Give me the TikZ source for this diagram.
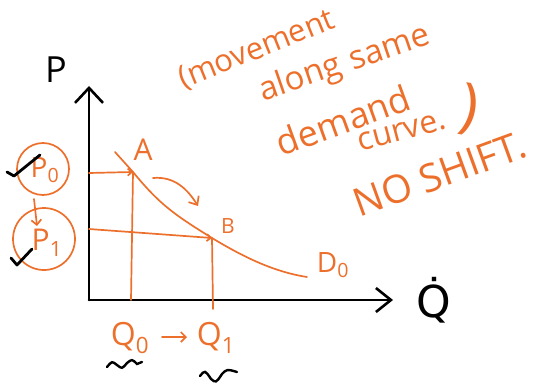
\documentclass[tikz,border=0pt]{standalone}
\usepackage{fontspec}
\setmainfont{Open Sans}
\newfontfamily\dejavu{DejaVu Sans}
\usetikzlibrary{arrows.meta}
\definecolor{pen}{RGB}{236,112,44}
\tikzset{
  axis/.style={black, line width=2.6pt, line cap=round, line join=round},
  ora/.style={pen, line width=1.7pt, line cap=round},
  hand/.style={pen, inner sep=0pt, font=\itshape},
  blk/.style={black, inner sep=0pt},
  tick/.style={black, line width=2.8pt, line cap=round, line join=round},
  squig/.style={black, line width=2.4pt, line cap=round},
}
\begin{document}
\begin{tikzpicture}[x=1pt,y=-1pt]
\useasboundingbox (0,0) rectangle (545,385);
% axes
\coordinate (O) at (89,300);
\coordinate (ytop) at (89,86);
\coordinate (xend) at (393,300);
\draw[axis,-{Straight Barb[length=15pt,width=28pt]}] (O) -- (ytop);
\draw[axis,-{Straight Barb[length=15pt,width=24pt]}] (O) -- (xend);
\node[blk, font=\fontsize{36}{40}\selectfont] (P) at (56,70) {P};
\node[blk, font=\fontsize{44}{48}\selectfont\dejavu] (Q) at (434,300) {Q\char"0307};
% demand curve
\coordinate (c0) at (115,152);
\coordinate (A) at (133,172);
\coordinate (B) at (212,238);
\coordinate (c9) at (307,277);
\draw[ora] (c0) .. controls (124,162) .. (A) .. controls (160,205) and (175,215) .. (B) .. controls (245,258) and (275,272) .. (c9);
\node[hand, font=\fontsize{30}{32}\selectfont] (Alab) at (143,150) {A};
\node[hand, font=\fontsize{21}{24}\selectfont] (Blab) at (228,226) {B};
\node[hand, font=\fontsize{28}{30}\selectfont] (D0) at (333,265) {D\textsubscript{0}};
% guide lines
\coordinate (yA) at (89,173);
\coordinate (yB) at (89,229);
\coordinate (xA) at (131,300);
\coordinate (xB) at (213,309);
\draw[ora,-{Straight Barb[length=4pt,width=7pt]}] (yA) -- (A);
\draw[ora,-{Straight Barb[length=4pt,width=7pt]}] (yB) -- (B);
\draw[ora] (A) -- (xA);
\draw[ora] (B) -- (xB);
% movement arrow
\coordinate (m0) at (153,178);
\coordinate (m1) at (198,206);
\draw[ora,-{Straight Barb[length=7pt,width=12pt]}] (m0) .. controls (175,176) and (188,190) .. (m1);
% price labels
\node[hand, font=\fontsize{28}{30}\selectfont] (P0) at (45,170) {P\textsubscript{0}};
\node[hand, font=\fontsize{30}{32}\selectfont] (P1) at (47,243) {P\textsubscript{1}};
\draw[ora] (43,169) circle (26);
\draw[ora] (44,239) circle (31);
\coordinate (pa) at (34,199);
\coordinate (pb) at (37,226);
\draw[ora,-{Straight Barb[length=5pt,width=10pt]}] (pa) -- (pb);
\draw[tick] (7,172) -- (14,176) -- (40,155);
\draw[tick] (11,258) -- (17,265) -- (32,249);
% quantity labels
\node[hand, font=\fontsize{32}{34}\selectfont] (Q0) at (130,338) {Q\textsubscript{0}};
\node[hand, font=\fontsize{32}{34}\selectfont] (Q1) at (216,338) {Q\textsubscript{1}};
\draw[ora,-{Straight Barb[length=5pt,width=10pt]}] (162,337) -- (187,337);
\draw[squig] (107,367) .. controls (112,361) .. (117,365) .. controls (122,369) .. (127,363) .. controls (132,359) .. (137,364) -- (142,362);
\draw[squig] (200,376) .. controls (205,370) .. (211,379) .. controls (216,383) .. (222,374) .. controls (227,369) .. (237,372);
% annotation
\node[hand, rotate=22, font=\fontsize{31}{34}\selectfont] (t1) at (257,50) {(movement};
\node[hand, rotate=19, font=\fontsize{33}{36}\selectfont] (t2) at (345,64) {along\hspace{10pt}same};
\node[hand, rotate=20, font=\fontsize{36}{40}\selectfont] (t3) at (343,120) {demand};
\node[hand, rotate=15, font=\fontsize{32}{36}\selectfont] (t4) at (402,132) {curve.};
\node[hand, rotate=-10, font=\fontsize{60}{64}\selectfont] (t5) at (469,110) {)};
\node[hand, rotate=20, font=\fontsize{39}{42}\selectfont] (t6) at (440,174) {NO SHIFT.};
\end{tikzpicture}
\end{document}
